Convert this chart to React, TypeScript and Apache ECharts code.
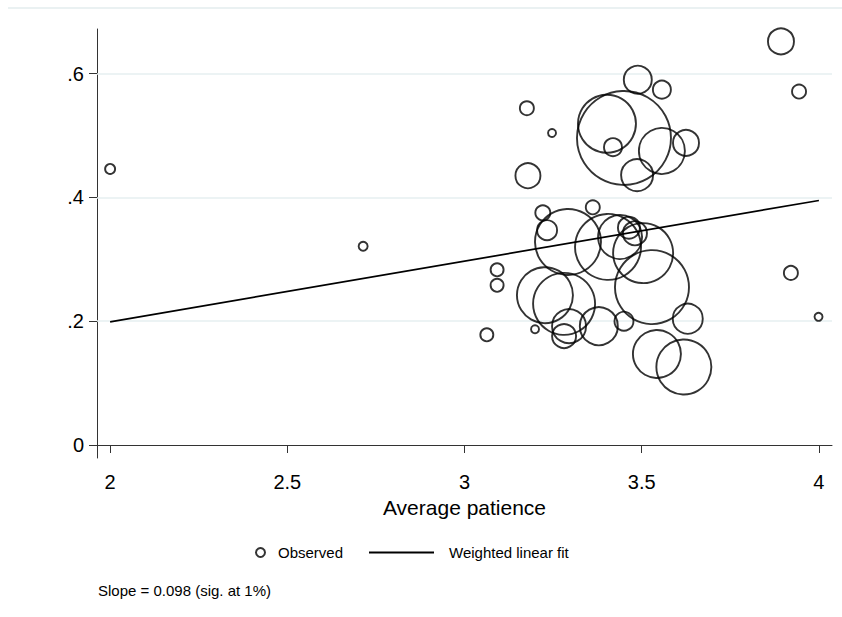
import React, { useEffect, useRef } from "react";
import * as echarts from "echarts";

// Observed points: average patience (x), outcome (y), bubble diameter (weight)
const obsX = [2.0, 2.714, 3.063, 3.092, 3.092, 3.176, 3.179, 3.247, 3.199, 3.221, 3.233, 3.227, 3.292, 3.281, 3.295, 3.281, 3.362, 3.405, 3.439, 3.464, 3.481, 3.504, 3.529, 3.379, 3.45, 3.63, 3.543, 3.619, 3.489, 3.557, 3.402, 3.45, 3.419, 3.557, 3.625, 3.487, 3.893, 3.944, 3.921, 3.999];
const obsY = [0.446, 0.321, 0.178, 0.283, 0.258, 0.544, 0.435, 0.504, 0.187, 0.375, 0.347, 0.242, 0.328, 0.228, 0.192, 0.176, 0.384, 0.32, 0.336, 0.351, 0.342, 0.31, 0.255, 0.192, 0.2, 0.204, 0.147, 0.126, 0.59, 0.574, 0.519, 0.496, 0.481, 0.475, 0.488, 0.436, 0.652, 0.571, 0.278, 0.207];
const obsSize = [10, 9, 13, 13, 13, 14, 25, 8, 8, 15, 20, 56, 66, 62, 34, 24, 14, 66, 44, 22, 24, 60, 74, 38, 19, 30, 48, 55, 28, 18, 58, 94, 18, 46, 26, 32, 26, 14, 14, 8];

// Weighted linear fit endpoints
const fitX = [2, 4];
const fitY = [0.199, 0.395];

const xTicks = [2, 2.5, 3, 3.5, 4];
const yTicks = [0, 0.2, 0.4, 0.6];
const gridYs = [0.2, 0.4, 0.6];

const slopeNote = "Slope = 0.098 (sig. at 1%)";

export default function App() {
  const ref = useRef<HTMLDivElement>(null);
  useEffect(() => {
    if (!ref.current) return;
    const chart = echarts.init(ref.current, null, { renderer: "svg" });
    const font = "'Liberation Sans', Arial, Helvetica, sans-serif";
    const scatterData = obsX.map((x, i) => [x, obsY[i], obsSize[i]]);
    const fitData = fitX.map((x, i) => [x, fitY[i]]);
    chart.setOption({
      animation: false,
      backgroundColor: "#ffffff",
      textStyle: { fontFamily: font },
      grid: { left: 97, right: 10, top: 29, bottom: 159, containLabel: false },
      title: {
        text: slopeNote,
        left: 93,
        top: 578,
        textStyle: { fontSize: 15, fontWeight: "normal", color: "#000", fontFamily: font },
      },
      legend: [
        {
          data: ["Observed"],
          left: 250,
          top: 540,
          itemWidth: 9,
          itemHeight: 9,
          textStyle: { fontSize: 15, color: "#000", fontFamily: font, padding: [0, 0, 0, 8] },
          selectedMode: false,
        },
        {
          data: [{ name: "Weighted linear fit", icon: "rect" }],
          left: 364,
          top: 540,
          itemWidth: 65,
          itemHeight: 2,
          itemStyle: { color: "#000" },
          textStyle: { fontSize: 15, color: "#000", fontFamily: font, padding: [0, 0, 0, 10] },
          selectedMode: false,
        },
      ],
      graphic: [
        {
          type: "line",
          shape: { x1: 8, y1: 8, x2: 842, y2: 8 },
          style: { stroke: "#e3ecee", lineWidth: 1.5 },
          silent: true,
        },
      ],
      xAxis: {
        type: "value",
        min: 1.963,
        max: 4.037,
        name: "Average patience",
        nameLocation: "middle",
        nameGap: 37,
        nameTextStyle: { fontSize: 21, color: "#000", fontFamily: font },
        axisLine: { show: true, lineStyle: { color: "#333", width: 1 } },
        axisTick: { show: true, length: 8, customValues: xTicks, lineStyle: { color: "#333" } },
        axisLabel: {
          customValues: xTicks,
          fontSize: 20,
          color: "#000",
          margin: 14,
          fontFamily: font,
          formatter: (v: number) => String(v),
        },
        splitLine: { show: false },
      },
      yAxis: {
        type: "value",
        min: -0.021,
        max: 0.672,
        axisLine: { show: true, lineStyle: { color: "#333", width: 1 } },
        axisTick: { show: true, length: 8, customValues: yTicks, lineStyle: { color: "#333" } },
        axisLabel: {
          customValues: yTicks,
          fontSize: 20,
          color: "#000",
          margin: 13,
          fontFamily: font,
          formatter: (v: number) => (v === 0 ? "0" : String(v).replace(/^0/, "")),
        },
        splitLine: { show: false },
      },
      series: [
        {
          name: "Weighted linear fit",
          type: "line",
          data: fitData,
          symbol: "none",
          showSymbol: false,
          lineStyle: { color: "#000", width: 1.7 },
          itemStyle: { color: "#000" },
          z: 3,
          markLine: {
            silent: true,
            symbol: ["none", "none"],
            label: { show: false },
            lineStyle: { color: "#e6eff1", width: 1.5, type: "solid" },
            data: gridYs.map((v) => ({ yAxis: v })),
            z: 1,
          },
        },
        {
          name: "Observed",
          type: "scatter",
          data: scatterData,
          symbol: "circle",
          symbolSize: (d: number[]) => d[2],
          itemStyle: { color: "rgba(0,0,0,0)", borderColor: "#000", borderWidth: 1.9 },
          z: 4,
        },
      ],
    });
    return () => chart.dispose();
  }, []);
  return (
    <div
      ref={ref}
      style={{ position: "fixed", left: 0, top: 0, width: 842, height: 617, background: "#fff" }}
    />
  );
}
